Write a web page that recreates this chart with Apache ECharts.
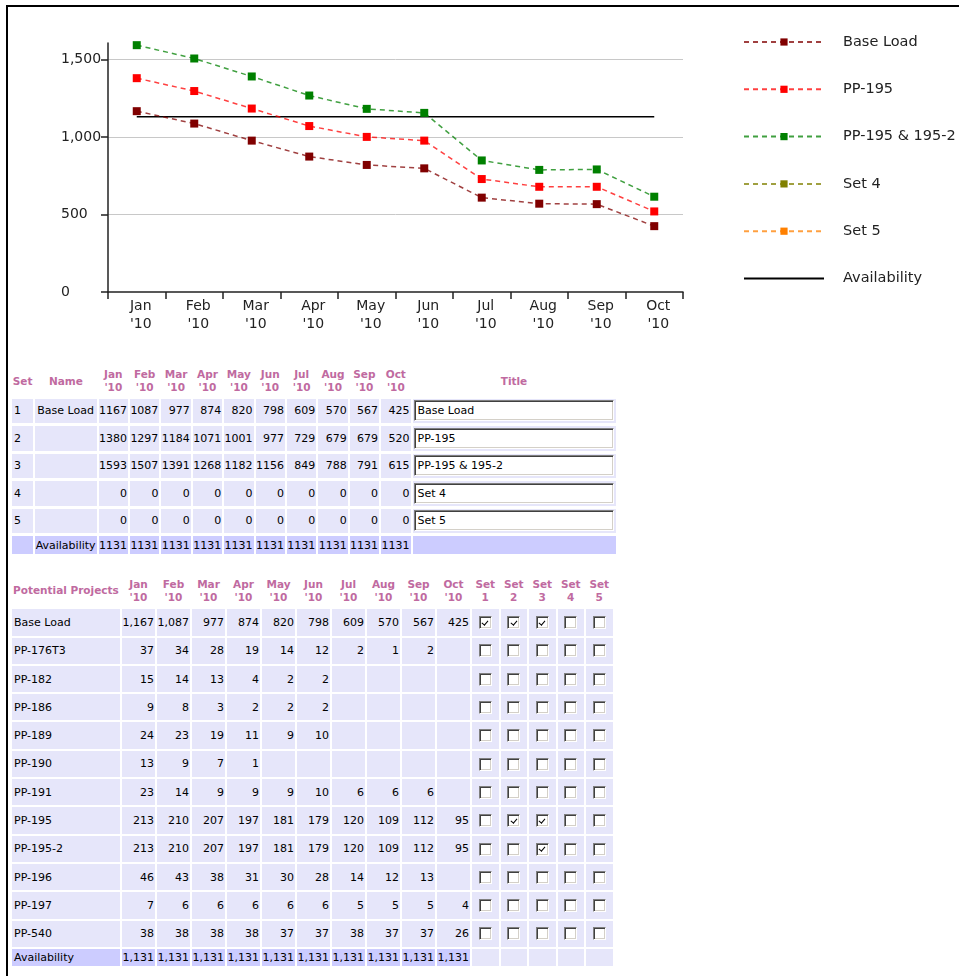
<!DOCTYPE html>
<html>
<head>
<meta charset="utf-8">
<script src="https://cdn.jsdelivr.net/npm/echarts@6/dist/echarts.min.js"></script>
<style>
  html, body { margin: 0; padding: 0; background: #fff; }
  body { width: 959px; height: 976px; position: relative; overflow: hidden;
         font-family: "DejaVu Sans", Verdana, sans-serif; }
  #frame { position: absolute; left: 6px; top: 5px; width: 2000px; height: 2000px;
           border-top: 2px solid #000; border-left: 2px solid #000; }
  #chart { position: absolute; left: 0; top: 0; width: 959px; height: 345px; }
  table { position: absolute; table-layout: fixed; border-collapse: separate;
          font-size: 11px; color: #000; }
  th, td { padding: 0; white-space: nowrap; overflow: visible; box-sizing: border-box; }
  th { font-weight: bold; font-size: 10.5px; line-height: 13px; color: #c06aa0;
       text-align: center; vertical-align: middle; }
  td { background: #e6e6fa; vertical-align: middle; }
  td.num { text-align: right; padding-right: 1px; }
  td.txt { text-align: left; padding-left: 2px; }
  td.cb { text-align: center; }
  tr.avail td { background: #ccccff; }
  tr.avail td.blank { background: #e6e6fa; }
  #sets { left: 10px; top: 364px; border-spacing: 2px 3px; width: 605.6px; }
  #sets tr.hd th { height: 28.6px; }
  #sets tr.row td { height: 24.5px; }
  #sets tr.avail td { height: 18px; }
  #projects { left: 10px; top: 572.7px; border-spacing: 2px 2px; width: 604.5px; }
  #projects tr.hd th { height: 32.6px; }
  #projects tr.row td { height: 26.3px; }
  #projects tr.avail td { height: 17.4px; }
  .inp { width: 200px; height: 21px; margin-left: 1px; box-sizing: border-box; background: #fff;
         border-style: solid; border-width: 1px; border-color: #808080 #ffffff #ffffff #808080;
         box-shadow: inset 1px 1px 0 #404040, inset -1px -1px 0 #d4d0c8;
         padding-left: 3px; line-height: 19px; font-size: 11px; }
  .box { display: inline-block; width: 13px; height: 13px; box-sizing: border-box; background: #fff;
         border-style: solid; border-width: 1px; border-color: #808080 #ffffff #ffffff #808080;
         box-shadow: inset 1px 1px 0 #404040, inset -1px -1px 0 #d4d0c8;
         position: relative; vertical-align: middle; }
  .box.on::after { content: ""; position: absolute; left: 3.5px; top: 1.5px; width: 2.5px; height: 5px;
         border-right: 1.6px solid #000; border-bottom: 1.6px solid #000; transform: rotate(40deg); }
</style>
</head>
<body>
<div id="frame"></div>
<div id="chart"></div>
<table id="sets"></table>
<table id="projects"></table>
<script>
// Month columns
const months = ['Jan', 'Feb', 'Mar', 'Apr', 'May', 'Jun', 'Jul', 'Aug', 'Sep', 'Oct'];
const yearTag = "'10";
const yTicks = [0, 500, 1000, 1500];

// Scenario sets (totals per month)
const set1 = [1167, 1087, 977, 874, 820, 798, 609, 570, 567, 425];
const set2 = [1380, 1297, 1184, 1071, 1001, 977, 729, 679, 679, 520];
const set3 = [1593, 1507, 1391, 1268, 1182, 1156, 849, 788, 791, 615];
const set4 = [0, 0, 0, 0, 0, 0, 0, 0, 0, 0];
const set5 = [0, 0, 0, 0, 0, 0, 0, 0, 0, 0];
const setNames = ['Base Load', '', '', '', ''];
const setTitles = ['Base Load', 'PP-195', 'PP-195 & 195-2', 'Set 4', 'Set 5'];
const setColors = ['#800000', '#ff0000', '#008000', '#808000', '#ff8000'];
const availability = [1131, 1131, 1131, 1131, 1131, 1131, 1131, 1131, 1131, 1131];

// Potential projects (monthly capacity, blank where none)
const projectNames = ['Base Load', 'PP-176T3', 'PP-182', 'PP-186', 'PP-189', 'PP-190',
  'PP-191', 'PP-195', 'PP-195-2', 'PP-196', 'PP-197', 'PP-540'];
const baseLoad = [1167, 1087, 977, 874, 820, 798, 609, 570, 567, 425];
const pp176t3 = [37, 34, 28, 19, 14, 12, 2, 1, 2, null];
const pp182 = [15, 14, 13, 4, 2, 2, null, null, null, null];
const pp186 = [9, 8, 3, 2, 2, 2, null, null, null, null];
const pp189 = [24, 23, 19, 11, 9, 10, null, null, null, null];
const pp190 = [13, 9, 7, 1, null, null, null, null, null, null];
const pp191 = [23, 14, 9, 9, 9, 10, 6, 6, 6, null];
const pp195 = [213, 210, 207, 197, 181, 179, 120, 109, 112, 95];
const pp195b = [213, 210, 207, 197, 181, 179, 120, 109, 112, 95];
const pp196 = [46, 43, 38, 31, 30, 28, 14, 12, 13, null];
const pp197 = [7, 6, 6, 6, 6, 6, 5, 5, 5, 4];
const pp540 = [38, 38, 38, 38, 37, 37, 38, 37, 37, 26];

// Which sets each project belongs to (Set 1..5)
const memberBaseLoad = [true, true, true, false, false];
const memberPP195 = [false, true, true, false, false];
const memberPP195b = [false, false, true, false, false];
const memberNone = [false, false, false, false, false];

const setValues = [set1, set2, set3, set4, set5];
const projectValues = [baseLoad, pp176t3, pp182, pp186, pp189, pp190, pp191, pp195, pp195b, pp196, pp197, pp540];
const projectMembers = [memberBaseLoad, memberNone, memberNone, memberNone, memberNone, memberNone,
  memberNone, memberPP195, memberPP195b, memberNone, memberNone, memberNone];

// A set is only plotted when at least one project is ticked for it
const setActive = setValues.map((_, s) => projectMembers.some(m => m[s]));

// ---- Chart ----
const chart = echarts.init(document.getElementById('chart'), null, { renderer: 'canvas' });
const font = 'DejaVu Sans';
const series = setValues.map((vals, i) => ({
  name: setTitles[i],
  type: 'line',
  data: setActive[i] ? vals : [],
  symbol: 'rect',
  symbolSize: 8,
  color: setColors[i],
  itemStyle: { color: setColors[i] },
  lineStyle: { color: setColors[i], width: 1.5, type: [5, 4], opacity: 0.75 },
  emphasis: { disabled: true },
  z: 3
}));
series.push({
  name: 'Availability',
  type: 'line',
  data: availability,
  symbol: 'none',
  color: '#000',
  lineStyle: { color: '#000', width: 1.6, type: 'solid' },
  emphasis: { disabled: true },
  z: 2
});

chart.setOption({
  animation: false,
  textStyle: { fontFamily: font },
  grid: { left: 108, top: 43, width: 575, height: 249 },
  legend: {
    orient: 'vertical', left: 743, top: 34, padding: 0,
    itemWidth: 80, itemHeight: 9, itemGap: 31.3,
    textStyle: { fontFamily: font, fontSize: 14.5, color: '#222', lineHeight: 16, padding: [0, 0, 0, 14] },
    data: setTitles.map(name => ({ name: name })).concat([
      { name: 'Availability', itemStyle: { opacity: 0 } }
    ])
  },
  xAxis: {
    type: 'category',
    data: months.map(m => m + '\n' + yearTag),
    boundaryGap: true,
    axisLine: { lineStyle: { color: '#222', width: 1.5 } },
    axisTick: { show: true, length: 7, lineStyle: { color: '#222', width: 1.5 } },
    axisLabel: { interval: 0, color: '#222', fontFamily: font, fontSize: 14, lineHeight: 18,
                 margin: 5, padding: [0, 0, 0, 8] },
    splitLine: { show: false }
  },
  yAxis: {
    type: 'value', min: 0, max: 1607, interval: 500,
    axisLine: { show: true, lineStyle: { color: '#222', width: 1.5 } },
    axisTick: { show: true, length: 7, customValues: yTicks, lineStyle: { color: '#222', width: 1.5 } },
    axisLabel: { customValues: yTicks, align: 'left', margin: 47,
                 color: '#222', fontFamily: font, fontSize: 14,
                 formatter: v => Number(v).toLocaleString('en-US') },
    splitLine: { show: true, showMinLine: false,
                 lineStyle: { color: '#c8c8c8', width: 1 } }
  },
  series: series
});

// ---- Tables ----
const fmt = (v, commas) => v == null ? '' : (commas ? v.toLocaleString('en-US') : String(v));
const monthHead = months.map(m => '<th>' + m + '<br>' + yearTag + '</th>').join('');

// Set totals table
let h = '<colgroup><col style="width:21.3px"><col style="width:61.3px">' +
  months.map(() => '<col style="width:29.4px">').join('') + '<col style="width:203px"></colgroup>';
h += '<tr class="hd"><th>Set</th><th>Name</th>' + monthHead + '<th>Title</th></tr>';
setValues.forEach((vals, i) => {
  h += '<tr class="row"><td class="txt">' + (i + 1) + '</td><td class="txt">' + setNames[i] + '</td>' +
    vals.map(v => '<td class="num">' + fmt(v, false) + '</td>').join('') +
    '<td><div class="inp">' + setTitles[i] + '</div></td></tr>';
});
h += '<tr class="avail"><td></td><td class="num">Availability</td>' +
  availability.map(v => '<td class="num">' + fmt(v, false) + '</td>').join('') + '<td></td></tr>';
document.getElementById('sets').innerHTML = h;

// Potential projects table
let p = '<colgroup><col style="width:108px">' + months.map(() => '<col style="width:33px">').join('') +
  setTitles.map(() => '<col style="width:26.5px">').join('') + '</colgroup>';
p += '<tr class="hd"><th style="text-align:left;padding-left:1px">Potential Projects</th>' + monthHead +
  setTitles.map((_, s) => '<th>Set<br>' + (s + 1) + '</th>').join('') + '</tr>';
projectNames.forEach((name, r) => {
  p += '<tr class="row"><td class="txt">' + name + '</td>' +
    projectValues[r].map(v => '<td class="num">' + fmt(v, true) + '</td>').join('') +
    projectMembers[r].map(on => '<td class="cb"><span class="box' + (on ? ' on' : '') + '"></span></td>').join('') +
    '</tr>';
});
p += '<tr class="avail"><td class="txt">Availability</td>' +
  availability.map(v => '<td class="num">' + fmt(v, true) + '</td>').join('') +
  setTitles.map(() => '<td class="blank"></td>').join('') + '</tr>';
document.getElementById('projects').innerHTML = p;
</script>
</body>
</html>
